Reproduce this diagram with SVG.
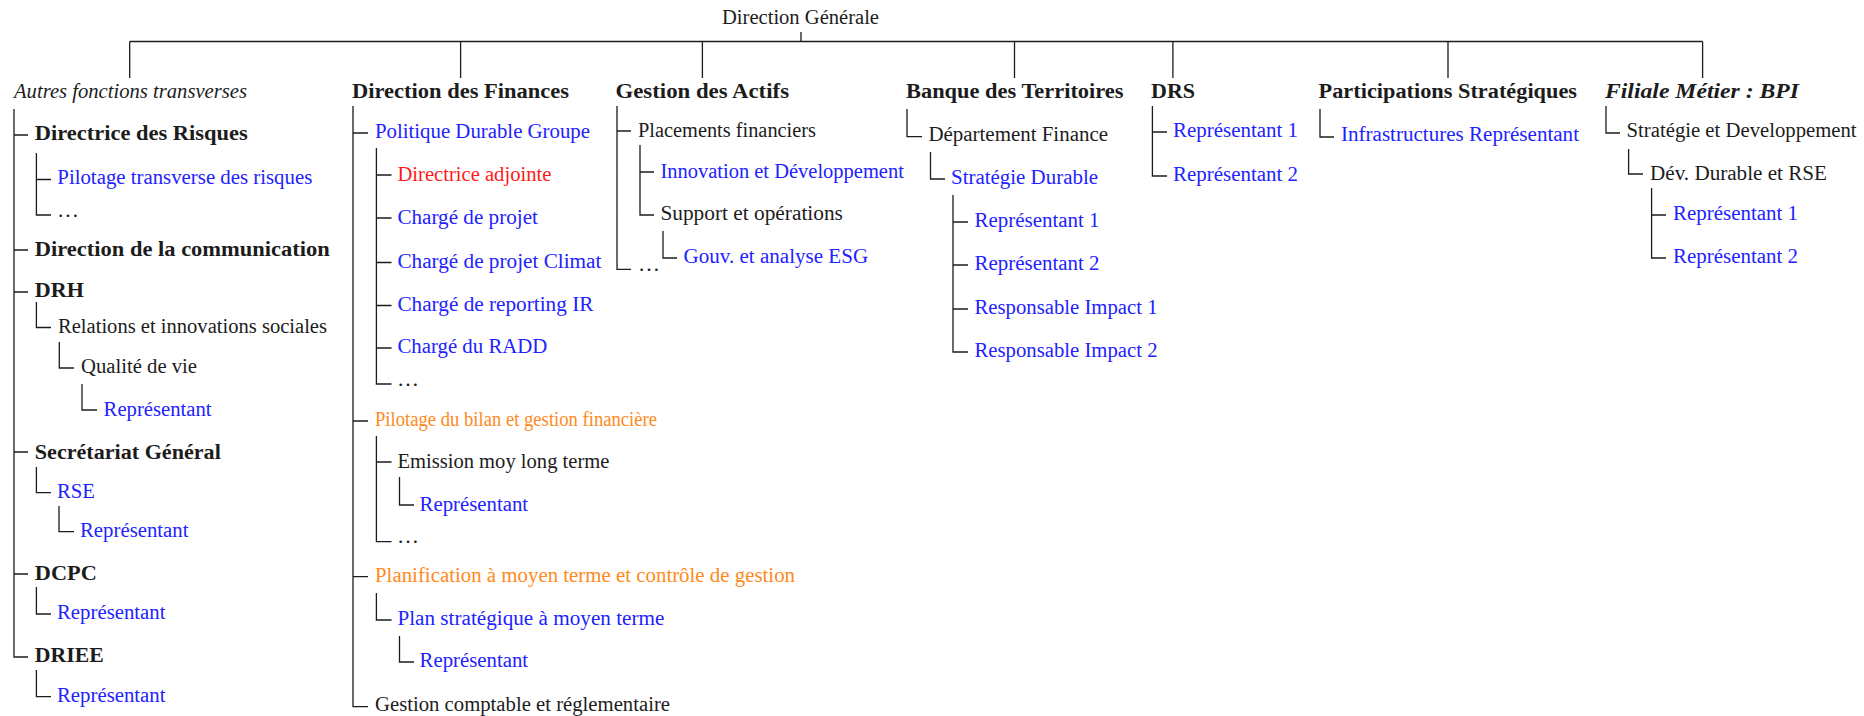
<svg xmlns="http://www.w3.org/2000/svg" width="1864" height="716" viewBox="0 0 1864 716">
<style>
text{font-family:"Liberation Serif","Times New Roman",serif;font-size:20px;fill:#1c1c1c}
.b{font-weight:bold}
.i{font-style:italic}
.bl{fill:#2222ff}
.rd{fill:#ff1a1a}
.or{fill:#ff8a1a}
.c path{fill:none;stroke:#1c1c1c;stroke-width:1.3}
</style>
<rect width="1864" height="716" fill="#fff"/>
<g class="c" id="connectors">
<path d="M801 32V41.5M129.7 41.5H1702.6M129.7 41.5V78M460.6 41.5V78M702.4 41.5V78M1014.5 41.5V78M1172.9 41.5V78M1448 41.5V78M1702.6 41.5V78"/>
<!-- Autres -->
<path d="M14 109V657H28M14 135H28M14 250H28M14 292H28M14 452H28M14 574H28"/>
<path d="M36.4 153V215H51M36.4 179.5H51"/>
<path d="M36.4 302V327.5H51M59.3 342V368H74M82 384V410H97"/>
<path d="M36.4 467V492.7H51M59 506V531.7H74"/>
<path d="M36.4 587V614H51M36.4 670V696.7H51"/>
<!-- Finances -->
<path d="M353 106V706.7H368M353 133H368M353 421H368M353 576.7H368"/>
<path d="M376.4 148V384H391.5M376.4 175H391.5M376.4 218H391.5M376.4 262.5H391.5M376.4 305.5H391.5M376.4 348H391.5"/>
<path d="M376.4 436V541.7H391.5M376.4 462H391.5M399.5 477V505H414"/>
<path d="M376.4 593V620H391.5M399.5 636V662H414"/>
<!-- Actifs -->
<path d="M617 106V269.3H631M617 131H631M640 145V215H654M640 172H654M663 231V258H677"/>
<!-- Banque -->
<path d="M907 109V136.7H922M930.5 152V179H945M953 195V352H968M953 222H968M953 265H968M953 309H968"/>
<!-- DRS -->
<path d="M1152.4 106V176H1167M1152.4 132H1167"/>
<!-- Participations -->
<path d="M1320 109V137H1334"/>
<!-- Filiale -->
<path d="M1606 106V133H1620M1628.6 149V174H1643M1651.6 188V258H1666M1651.6 215H1666"/>
</g>
<g id="n-dg"><text x="722" y="24" textLength="157" lengthAdjust="spacingAndGlyphs">Direction Générale</text></g>
<g id="h-autres"><text class="i" x="14" y="98" textLength="233" lengthAdjust="spacingAndGlyphs">Autres fonctions transverses</text></g>
<g id="h-finances"><text class="b" x="352" y="98" textLength="217" lengthAdjust="spacingAndGlyphs">Direction des Finances</text></g>
<g id="h-actifs"><text class="b" x="615.5" y="98" textLength="173.5" lengthAdjust="spacingAndGlyphs">Gestion des Actifs</text></g>
<g id="h-banque"><text class="b" x="906" y="98" textLength="217.5" lengthAdjust="spacingAndGlyphs">Banque des Territoires</text></g>
<g id="h-drs"><text class="b" x="1151" y="98" textLength="44" lengthAdjust="spacingAndGlyphs">DRS</text></g>
<g id="h-particip"><text class="b" x="1318.6" y="98" textLength="258.4" lengthAdjust="spacingAndGlyphs">Participations Stratégiques</text></g>
<g id="h-filiale"><text class="b i" x="1605" y="98" textLength="194" lengthAdjust="spacingAndGlyphs">Filiale Métier : BPI</text></g>

<g id="a-risques"><text class="b" x="34.8" y="140" textLength="213" lengthAdjust="spacingAndGlyphs">Directrice des Risques</text></g>
<g id="a-pilotage"><text class="bl" x="57.3" y="184" textLength="255" lengthAdjust="spacingAndGlyphs">Pilotage transverse des risques</text></g>
<g id="a-etc1"><text x="57" y="216.5" textLength="22" lengthAdjust="spacingAndGlyphs">…</text></g>
<g id="a-comm"><text class="b" x="34.8" y="255.5" textLength="295" lengthAdjust="spacingAndGlyphs">Direction de la communication</text></g>
<g id="a-drh"><text class="b" x="34.8" y="297" textLength="49" lengthAdjust="spacingAndGlyphs">DRH</text></g>
<g id="a-relations"><text x="58" y="332.5" textLength="269" lengthAdjust="spacingAndGlyphs">Relations et innovations sociales</text></g>
<g id="a-qualite"><text x="81" y="373" textLength="116" lengthAdjust="spacingAndGlyphs">Qualité de vie</text></g>
<g id="a-rep-qv"><text class="bl" x="103.6" y="415.5" textLength="108" lengthAdjust="spacingAndGlyphs">Représentant</text></g>
<g id="a-sg"><text class="b" x="34.8" y="458.5" textLength="186" lengthAdjust="spacingAndGlyphs">Secrétariat Général</text></g>
<g id="a-rse"><text class="bl" x="57" y="497.5" textLength="38" lengthAdjust="spacingAndGlyphs">RSE</text></g>
<g id="a-rep-rse"><text class="bl" x="80" y="536.5" textLength="108.5" lengthAdjust="spacingAndGlyphs">Représentant</text></g>
<g id="a-dcpc"><text class="b" x="34.8" y="579.5" textLength="62" lengthAdjust="spacingAndGlyphs">DCPC</text></g>
<g id="a-rep-dcpc"><text class="bl" x="57" y="619" textLength="108.5" lengthAdjust="spacingAndGlyphs">Représentant</text></g>
<g id="a-driee"><text class="b" x="34.8" y="662" textLength="69" lengthAdjust="spacingAndGlyphs">DRIEE</text></g>
<g id="a-rep-driee"><text class="bl" x="57" y="701.5" textLength="108.5" lengthAdjust="spacingAndGlyphs">Représentant</text></g>

<g id="f-pdg"><text class="bl" x="375" y="138" textLength="215" lengthAdjust="spacingAndGlyphs">Politique Durable Groupe</text></g>
<g id="f-dirad"><text class="rd" x="397.4" y="181" textLength="154" lengthAdjust="spacingAndGlyphs">Directrice adjointe</text></g>
<g id="f-cp"><text class="bl" x="397.4" y="223.5" textLength="140.5" lengthAdjust="spacingAndGlyphs">Chargé de projet</text></g>
<g id="f-cpc"><text class="bl" x="397.4" y="267.5" textLength="204" lengthAdjust="spacingAndGlyphs">Chargé de projet Climat</text></g>
<g id="f-cri"><text class="bl" x="397.4" y="310.5" textLength="196" lengthAdjust="spacingAndGlyphs">Chargé de reporting IR</text></g>
<g id="f-radd"><text class="bl" x="397.4" y="353" textLength="150" lengthAdjust="spacingAndGlyphs">Chargé du RADD</text></g>
<g id="f-etc1"><text x="397" y="385.5" textLength="22" lengthAdjust="spacingAndGlyphs">…</text></g>
<g id="f-bilan"><text class="or" x="375" y="426" textLength="282" lengthAdjust="spacingAndGlyphs">Pilotage du bilan et gestion financière</text></g>
<g id="f-emission"><text x="397.4" y="467.5" textLength="212" lengthAdjust="spacingAndGlyphs">Emission moy long terme</text></g>
<g id="f-rep-em"><text class="bl" x="419.6" y="510.5" textLength="108.5" lengthAdjust="spacingAndGlyphs">Représentant</text></g>
<g id="f-etc2"><text x="397" y="542.5" textLength="22" lengthAdjust="spacingAndGlyphs">…</text></g>
<g id="f-planif"><text class="or" x="375" y="582" textLength="420" lengthAdjust="spacingAndGlyphs">Planification à moyen terme et contrôle de gestion</text></g>
<g id="f-plan"><text class="bl" x="397.4" y="625" textLength="267" lengthAdjust="spacingAndGlyphs">Plan stratégique à moyen terme</text></g>
<g id="f-rep-plan"><text class="bl" x="419.6" y="667" textLength="108.5" lengthAdjust="spacingAndGlyphs">Représentant</text></g>
<g id="f-compta"><text x="375" y="710.5" textLength="295" lengthAdjust="spacingAndGlyphs">Gestion comptable et réglementaire</text></g>

<g id="g-placements"><text x="638" y="137" textLength="178" lengthAdjust="spacingAndGlyphs">Placements financiers</text></g>
<g id="g-innov"><text class="bl" x="660.4" y="178" textLength="243.5" lengthAdjust="spacingAndGlyphs">Innovation et Développement</text></g>
<g id="g-support"><text x="660.4" y="220" textLength="182.5" lengthAdjust="spacingAndGlyphs">Support et opérations</text></g>
<g id="g-esg"><text class="bl" x="683.6" y="262.5" textLength="184.5" lengthAdjust="spacingAndGlyphs">Gouv. et analyse ESG</text></g>
<g id="g-etc"><text x="638" y="270.5" textLength="22" lengthAdjust="spacingAndGlyphs">…</text></g>

<g id="b-dept"><text x="928.4" y="141" textLength="179.6" lengthAdjust="spacingAndGlyphs">Département Finance</text></g>
<g id="b-strat"><text class="bl" x="951" y="183.5" textLength="147" lengthAdjust="spacingAndGlyphs">Stratégie Durable</text></g>
<g id="b-rep1"><text class="bl" x="974.5" y="227" textLength="125" lengthAdjust="spacingAndGlyphs">Représentant 1</text></g>
<g id="b-rep2"><text class="bl" x="974.5" y="270" textLength="125" lengthAdjust="spacingAndGlyphs">Représentant 2</text></g>
<g id="b-imp1"><text class="bl" x="974.5" y="314" textLength="183" lengthAdjust="spacingAndGlyphs">Responsable Impact 1</text></g>
<g id="b-imp2"><text class="bl" x="974.5" y="357" textLength="183" lengthAdjust="spacingAndGlyphs">Responsable Impact 2</text></g>

<g id="d-rep1"><text class="bl" x="1173" y="137" textLength="125" lengthAdjust="spacingAndGlyphs">Représentant 1</text></g>
<g id="d-rep2"><text class="bl" x="1173" y="181" textLength="125" lengthAdjust="spacingAndGlyphs">Représentant 2</text></g>

<g id="p-infra"><text class="bl" x="1341" y="141" textLength="238" lengthAdjust="spacingAndGlyphs">Infrastructures Représentant</text></g>

<g id="l-strat"><text x="1626.6" y="137" textLength="230" lengthAdjust="spacingAndGlyphs">Stratégie et Developpement</text></g>
<g id="l-dev"><text x="1650" y="180" textLength="177" lengthAdjust="spacingAndGlyphs">Dév. Durable et RSE</text></g>
<g id="l-rep1"><text class="bl" x="1673" y="220" textLength="125" lengthAdjust="spacingAndGlyphs">Représentant 1</text></g>
<g id="l-rep2"><text class="bl" x="1673" y="263" textLength="125" lengthAdjust="spacingAndGlyphs">Représentant 2</text></g>
</svg>
